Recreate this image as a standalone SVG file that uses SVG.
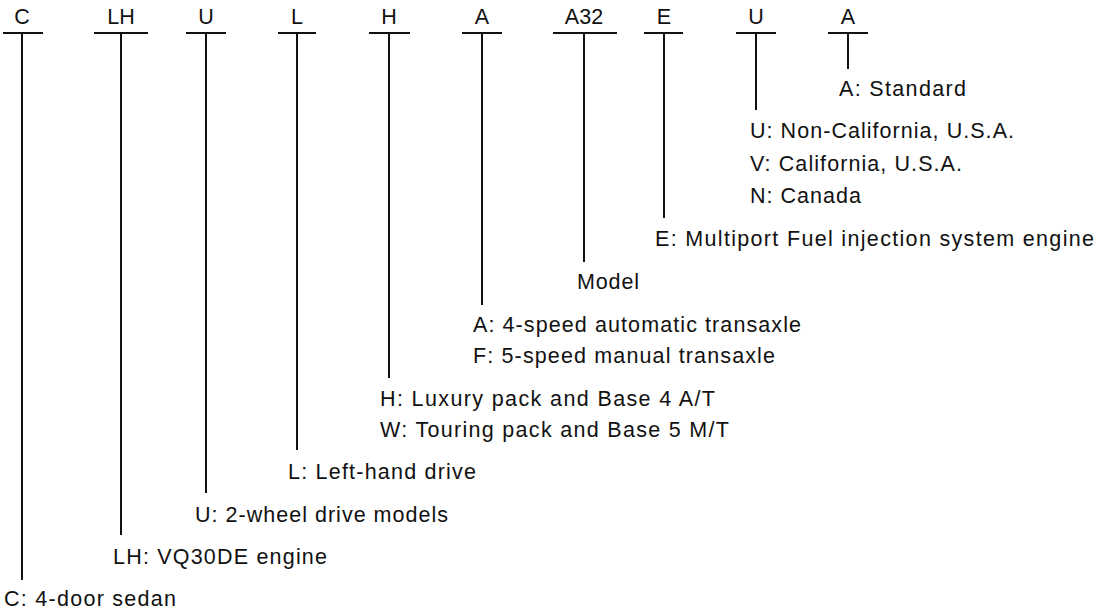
<svg xmlns="http://www.w3.org/2000/svg" width="1101" height="613" viewBox="0 0 1101 613">
<style>
text{font-family:"Liberation Sans",Arial,sans-serif;font-size:21.5px;fill:#111}
.c line{stroke:#111;stroke-width:2}
.h{text-anchor:middle}
</style>
<rect width="1101" height="613" fill="#fff"/>
<g id="connectors" class="c">
<line x1="3" y1="33" x2="43" y2="33"/><line x1="22" y1="33" x2="22" y2="580"/>
<line x1="94" y1="33" x2="148" y2="33"/><line x1="121" y1="33" x2="121" y2="535"/>
<line x1="186" y1="33" x2="226" y2="33"/><line x1="206" y1="33" x2="206" y2="493"/>
<line x1="278" y1="33" x2="316" y2="33"/><line x1="297" y1="33" x2="297" y2="450"/>
<line x1="369" y1="33" x2="410" y2="33"/><line x1="389" y1="33" x2="389" y2="378"/>
<line x1="462" y1="33" x2="502" y2="33"/><line x1="482" y1="33" x2="482" y2="305"/>
<line x1="553" y1="33" x2="617" y2="33"/><line x1="584" y1="33" x2="584" y2="262"/>
<line x1="644" y1="33" x2="683" y2="33"/><line x1="664" y1="33" x2="664" y2="218"/>
<line x1="736" y1="33" x2="776" y2="33"/><line x1="756" y1="33" x2="756" y2="110"/>
<line x1="828" y1="33" x2="868" y2="33"/><line x1="848" y1="33" x2="848" y2="69"/>
</g>
<g id="n-c"><text class="h" x="22" y="24">C</text><text x="4" y="606" textLength="172" lengthAdjust="spacing">C: 4-door sedan</text></g>
<g id="n-lh"><text class="h" x="121" y="24">LH</text><text x="113" y="564" textLength="214" lengthAdjust="spacing">LH: VQ30DE engine</text></g>
<g id="n-u1"><text class="h" x="206" y="24">U</text><text x="195" y="522" textLength="253" lengthAdjust="spacing">U: 2-wheel drive models</text></g>
<g id="n-l"><text class="h" x="297" y="24">L</text><text x="288" y="479" textLength="188" lengthAdjust="spacing">L: Left-hand drive</text></g>
<g id="n-h"><text class="h" x="389" y="24">H</text><text x="380" y="406" textLength="335" lengthAdjust="spacing">H: Luxury pack and Base 4 A/T</text><text x="380" y="437" textLength="349" lengthAdjust="spacing">W: Touring pack and Base 5 M/T</text></g>
<g id="n-a1"><text class="h" x="482" y="24">A</text><text x="473" y="332" textLength="328" lengthAdjust="spacing">A: 4-speed automatic transaxle</text><text x="473" y="363" textLength="302" lengthAdjust="spacing">F: 5-speed manual transaxle</text></g>
<g id="n-a32"><text class="h" x="584" y="24">A32</text><text x="577" y="289" textLength="62" lengthAdjust="spacing">Model</text></g>
<g id="n-e"><text class="h" x="664" y="24">E</text><text x="655" y="246" textLength="439" lengthAdjust="spacing">E: Multiport Fuel injection system engine</text></g>
<g id="n-u2"><text class="h" x="756" y="24">U</text><text x="750" y="138" textLength="264" lengthAdjust="spacing">U: Non-California, U.S.A.</text><text x="750" y="171" textLength="212" lengthAdjust="spacing">V: California, U.S.A.</text><text x="750" y="203" textLength="111" lengthAdjust="spacing">N: Canada</text></g>
<g id="n-a2"><text class="h" x="848" y="24">A</text><text x="839" y="96" textLength="127" lengthAdjust="spacing">A: Standard</text></g>
</svg>
